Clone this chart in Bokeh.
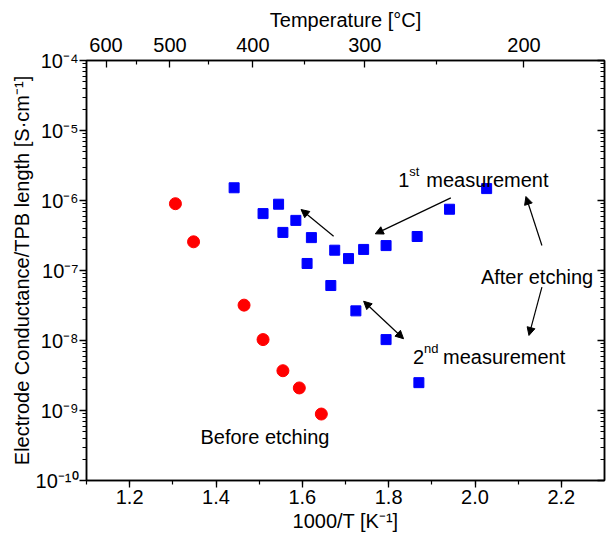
from bokeh.plotting import figure
from bokeh.models import (LinearAxis, LogAxis, FixedTicker, LogTicker, SingleIntervalTicker,
                          CustomJSTickFormatter, Label, Arrow, NormalHead, Range1d)
from bokeh.embed import file_html
from bokeh.resources import INLINE

# ---- data ----
before_x = [1.306, 1.348, 1.465, 1.509, 1.555, 1.593, 1.644]
before_y = [9.0e-7, 2.57e-7, 3.2e-8, 1.03e-8, 3.7e-9, 2.1e-9, 8.9e-10]

first_x = [1.442, 1.545, 1.509, 1.585, 1.555, 1.621, 1.675, 1.707, 1.742,
           1.794, 1.866, 1.941, 2.027]
first_y = [1.52e-6, 8.85e-7, 6.5e-7, 5.2e-7, 3.5e-7, 2.95e-7, 1.95e-7, 1.48e-7, 2.0e-7,
           2.27e-7, 3.06e-7, 7.5e-7, 1.48e-6]

second_x = [1.611, 1.666, 1.724, 1.794, 1.870]
second_y = [1.26e-7, 6.1e-8, 2.65e-8, 1.03e-8, 2.5e-9]

top_temps_C = [600, 500, 400, 300, 200]
top_minor_C = [550, 450, 350, 250]

FONT = "Liberation Sans"
FS = "20px"

top_major = [1000.0 / (t + 273.15) for t in top_temps_C]
top_minor = [1000.0 / (t + 273.15) for t in top_minor_C]

p = figure(width=606, height=541, output_backend="svg", toolbar_location=None,
           y_axis_type="log", x_range=Range1d(1.1, 2.3), y_range=Range1d(1e-10, 1e-4),
           min_border_left=86, min_border_top=60, min_border_right=2, min_border_bottom=61)
p.background_fill_color = "white"
p.border_fill_color = "white"
p.outline_line_color = "black"
p.outline_line_width = 1.5
p.xgrid.visible = False
p.ygrid.visible = False

sup_js = """
const m = {'-':'\u207b','0':'\u2070','1':'\u00b9','2':'\u00b2','3':'\u00b3','4':'\u2074',
           '5':'\u2075','6':'\u2076','7':'\u2077','8':'\u2078','9':'\u2079'};
const e = Math.round(Math.log10(tick));
return '10' + String(e).split('').map(c => m[c]).join('');
"""

def style(ax):
    ax.axis_line_width = 1.5
    ax.axis_line_color = "black"
    ax.major_tick_line_color = "black"
    ax.minor_tick_line_color = "black"
    ax.major_tick_line_width = 1.3
    ax.minor_tick_line_width = 1.2
    ax.major_label_text_font = FONT
    ax.major_label_text_font_size = FS
    ax.major_label_text_color = "black"
    ax.axis_label_text_font = FONT
    ax.axis_label_text_font_size = FS
    ax.axis_label_text_font_style = "normal"
    ax.axis_label_text_color = "black"

# bottom axis
xb = p.xaxis[0]
style(xb)
xb.ticker = SingleIntervalTicker(interval=0.2, num_minor_ticks=2)
xb.formatter = CustomJSTickFormatter(code="return tick.toFixed(1);")
xb.major_tick_out = 7
xb.major_tick_in = 0
xb.minor_tick_out = 4
xb.minor_tick_in = 0
xb.major_label_standoff = 2
xb.axis_label = "1000/T [K\u207b\u00b9]"
xb.axis_label_standoff = 3

# left axis
yl = p.yaxis[0]
style(yl)
yl.ticker = LogTicker(desired_num_ticks=7, num_minor_ticks=10)
yl.formatter = CustomJSTickFormatter(code=sup_js)
yl.major_tick_out = 7
yl.major_tick_in = 0
yl.minor_tick_out = 4
yl.minor_tick_in = 0
yl.major_label_standoff = 1
yl.axis_label = "Electrode Conductance/TPB length [S\u00b7cm\u207b\u00b9]"
yl.axis_label_standoff = 0

# top axis
xt = LinearAxis(ticker=FixedTicker(ticks=top_major, minor_ticks=top_minor),
                formatter=CustomJSTickFormatter(code="return String(Math.round(1000/tick - 273.15));"))
style(xt)
xt.major_tick_in = 7
xt.major_tick_out = 0
xt.minor_tick_in = 4
xt.minor_tick_out = 0
xt.major_label_standoff = 9
xt.axis_label = "Temperature [\u00b0C]"
xt.axis_label_standoff = 4
p.add_layout(xt, "above")

# right axis
yr = LogAxis(ticker=LogTicker(desired_num_ticks=7, num_minor_ticks=10),
             formatter=CustomJSTickFormatter(code="return '';"))
style(yr)
yr.major_tick_in = 7
yr.major_tick_out = 0
yr.minor_tick_in = 4
yr.minor_tick_out = 0
yr.major_label_standoff = 0
yr.major_label_text_font_size = "0px"
p.add_layout(yr, "right")

# data
p.scatter(before_x, before_y, marker="circle", size=12, fill_color="#ff0000", line_color="#ff0000")
p.scatter(first_x, first_y, marker="square", size=10, fill_color="#0000ff", line_color="#0000ff")
p.scatter(second_x, second_y, marker="square", size=10, fill_color="#0000ff", line_color="#0000ff")

def lab(x, y, text, size=FS, xo=0, yo=0):
    p.add_layout(Label(x=x, y=y, text=text, x_offset=xo, y_offset=yo,
                       text_font=FONT, text_font_size=size, text_color="black",
                       text_baseline="alphabetic", text_align="left"))

lab(1.8222, 1.98e-6, "1")
lab(1.8222, 1.98e-6, "st", size="13px", xo=11, yo=8)
lab(1.8222, 1.98e-6, "measurement", xo=28)
lab(1.8563, 5.9e-9, "2")
lab(1.8563, 5.9e-9, "nd", size="13px", xo=11, yo=8)
lab(1.8563, 5.9e-9, "measurement", xo=30)
lab(2.0137, 8.2e-8, "After etching")
lab(1.3639, 4.16e-10, "Before etching")

def arrow(x0, y0, x1, y1, both=False):
    head = dict(size=8, fill_color="black", line_color="black", line_width=1)
    p.add_layout(Arrow(x_start=x0, y_start=y0, x_end=x1, y_end=y1,
                       line_color="black", line_width=1.2,
                       start=NormalHead(**head) if both else None,
                       end=NormalHead(**head)))

arrow(1.6725, 3.09e-7, 1.597, 7.43e-7)
arrow(1.944, 1.09e-6, 1.769, 3.34e-7)
arrow(1.742, 3.64e-8, 1.8345, 1.06e-8, both=True)
arrow(2.155, 2.28e-7, 2.118, 1.14e-6)
arrow(2.155, 5.77e-8, 2.125, 1.18e-8)

open("out.html", "w").write(file_html(p, INLINE))
